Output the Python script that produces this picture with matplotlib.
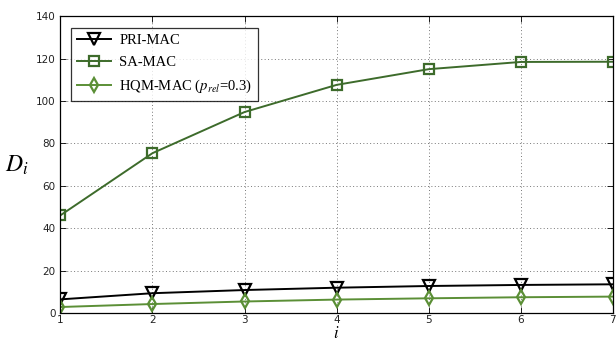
import numpy as np
import matplotlib
matplotlib.use("Agg")
import matplotlib.pyplot as plt

plt.rcParams['mathtext.fontset'] = 'stix'

# data
hops = [1, 2, 3, 4, 5, 6, 7]
pri_mac = [6.5, 9.4, 10.9, 12.0, 12.8, 13.3, 13.6]
sa_mac = [46.1, 75.4, 94.8, 107.6, 115.0, 118.4, 118.5]
hqm_mac = [2.9, 4.3, 5.5, 6.4, 7.0, 7.5, 7.8]

x_ticks = [1, 2, 3, 4, 5, 6, 7]
y_ticks = [0, 20, 40, 60, 80, 100, 120, 140]

dark_green = '#3d6b2b'
light_green = '#5b8f36'

fig = plt.figure(figsize=(6.16, 3.43), dpi=100)
ax = fig.add_axes([0.098, 0.087, 0.897, 0.866])

ax.plot(hops, pri_mac, color='black', lw=1.4, marker='v', ms=8,
        mfc='none', mew=1.6, label='PRI-MAC')
ax.plot(hops, sa_mac, color=dark_green, lw=1.4, marker='s', ms=7,
        mfc='none', mew=1.6, label='SA-MAC')
ax.plot(hops, hqm_mac, color=light_green, lw=1.4, marker='d', ms=7,
        mfc='none', mew=1.6, label='HQM-MAC ($p_{rel}$=0.3)')

ax.set_xlim(1, 7)
ax.set_ylim(0, 140)
ax.set_xticks(x_ticks)
ax.set_yticks(y_ticks)
ax.tick_params(direction='in', top=True, right=True, labelsize=7.5,
               labelcolor='#222222', length=4, width=0.6)
ax.tick_params(axis='x', pad=1.5)
ax.grid(True, linestyle=(0, (1, 2.5)), color='#777777', lw=0.7)
for s in ax.spines.values():
    s.set_linewidth(0.9)

# keep the x label inside the canvas: anchor its bottom just above the edge
ax.set_xlabel('$i$', fontsize=12, va='bottom')
ax.xaxis.set_label_coords(0.5, -0.097)
ax.set_ylabel('$D_i$', fontsize=17, rotation=0, labelpad=14, va='center')

leg = ax.legend(loc='upper left', bbox_to_anchor=(0.0195, 0.96),
                prop={'family': 'Liberation Serif', 'size': 10.5},
                frameon=True, fancybox=False, edgecolor='black',
                handlelength=2.3, handletextpad=0.6, borderpad=0.4,
                labelspacing=0.6, borderaxespad=0)
leg.get_frame().set_linewidth(0.9)

fig.savefig('out.png', dpi=100)
